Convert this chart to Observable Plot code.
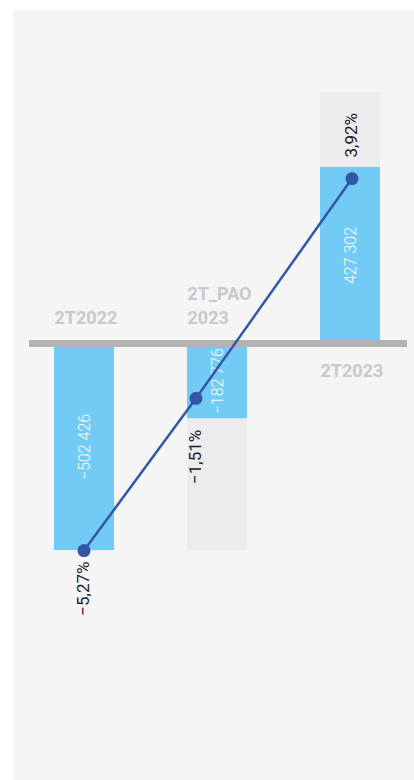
<!DOCTYPE html>
<html><head><meta charset="utf-8">
<script src="https://cdn.jsdelivr.net/npm/d3@7"></script>
<script src="https://cdn.jsdelivr.net/npm/@observablehq/plot@0.6"></script>
<style>
html,body{margin:0;padding:0;background:#fff;}
#wrap{position:relative;width:414px;height:780px;overflow:hidden;}
#panel{position:absolute;left:13px;top:10px;width:401px;height:770px;background:#f5f5f5;}
#wrap svg{position:absolute;left:0;top:0;}
</style></head><body><div id="wrap"><div id="panel"></div></div>
<script>
// ---- data ----
const categories = ["2T2022", "2T_PAO\n2023", "2T2023"];
const values = [-502426, -182776, 427302];
const capValues = [-502426, -502426, 610000];
const percents = [-5.27, -1.51, 3.92];
const linePositions = [0, 0.836, 2];

// ---- formatting ----
const loc = d3.formatLocale({decimal: ",", thousands: "\u00a0", grouping: [3], currency: ["", ""], minus: "\u2212"});
const fmtVal = loc.format(",d");
const fmtPct = v => loc.format(".2f")(v) + "%";

const rows = categories.map((c, i) => ({cat: c, value: values[i], cap: capValues[i], pct: percents[i], pos: linePositions[i]}));

// ---- scales ----
const yDom = [-1060680, 832524];
const pDom = [-10.951, 8.318];
const yB = d3.scaleLinear(yDom, [780, 0]);
const yP = d3.scaleLinear(pDom, [780, 0]);
const labelY = d => {
  const a = yP(d.pct), b = yB(d.value);
  const px = d.pct < 0 ? Math.max(a, b) + 11 : Math.min(a, b) - 10;
  return yP.invert(px);
};

const font = "Roboto, 'Noto Sans', sans-serif";
const blue = "#72cbf5", lineCol = "#3456a8";

const bars = Plot.plot({
  width: 414, height: 780, marginLeft: 29, marginRight: 7, marginTop: 0, marginBottom: 0,
  style: {background: "transparent", fontFamily: font, overflow: "visible"},
  x: {type: "band", domain: categories, range: [53, 381], paddingInner: 0.552, paddingOuter: 0, axis: null},
  y: {domain: yDom, range: [780, 0], axis: null},
  marks: [
    Plot.barY(rows, {x: "cat", y1: 0, y2: "cap", fill: "#ececec"}),
    Plot.barY(rows, {x: "cat", y1: 0, y2: "value", fill: blue}),
    Plot.ruleY([0], {stroke: "#b3b3b3", strokeWidth: 7}),
    Plot.text(rows, {x: "cat", y: d => d.value / 2, text: d => fmtVal(d.value), rotate: -90,
      fill: "white", fontSize: 16, fontWeight: 300}),
    Plot.text(rows.filter(d => d.value < 0), {x: "cat", y: 0, text: "cat", textAnchor: "start", dx: -30, dy: -19.5,
      lineAnchor: "bottom", lineHeight: 1.35, fill: "#c9c9c9", fontSize: 18, fontWeight: 700, ariaLabel: "category-labels"}),
    Plot.text(rows.filter(d => d.value >= 0), {x: "cat", y: 0, text: "cat", textAnchor: "start", dx: -30, dy: 16,
      lineAnchor: "top", lineHeight: 1.35, fill: "#c9c9c9", fontSize: 18, fontWeight: 700, ariaLabel: "category-labels"})
  ]
});
bars.querySelectorAll('g[aria-label="category-labels"] text').forEach(t => t.setAttribute("letter-spacing", "1"));

const line = Plot.plot({
  width: 414, height: 780, marginLeft: 0, marginRight: 0, marginTop: 0, marginBottom: 0,
  style: {background: "transparent", fontFamily: font, overflow: "visible"},
  x: {domain: [0, 2], range: [83.5, 351.5], axis: null},
  y: {domain: pDom, range: [780, 0], axis: null},
  marks: [
    Plot.line(rows, {x: "pos", y: "pct", stroke: lineCol, strokeWidth: 2.5}),
    Plot.dot(rows, {x: "pos", y: "pct", r: 6.5, fill: lineCol}),
    Plot.text(rows.filter(d => d.pct < 0), {x: "pos", y: labelY, text: d => fmtPct(d.pct), rotate: -90,
      textAnchor: "end", fill: "#1a1a1a", fontSize: 17, fontWeight: 400}),
    Plot.text(rows.filter(d => d.pct >= 0), {x: "pos", y: labelY, text: d => fmtPct(d.pct), rotate: -90,
      textAnchor: "start", fill: "#1a1a1a", fontSize: 17, fontWeight: 400})
  ]
});

const wrap = document.getElementById("wrap");
wrap.appendChild(bars);
wrap.appendChild(line);
</script>
</body></html>
